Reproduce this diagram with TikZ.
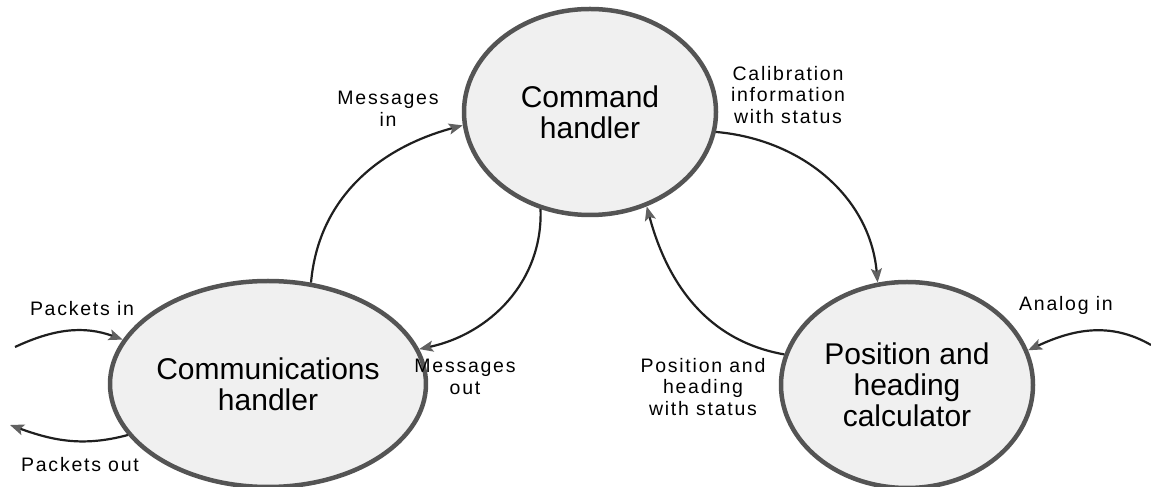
\documentclass[tikz,border=0pt]{standalone}
\usepackage{fontspec}
\setmainfont{Liberation Sans}
\newfontfamily\labelfont{Liberation Sans}[LetterSpace=9]
\usetikzlibrary{shapes.geometric,arrows.meta}
\definecolor{rim}{gray}{0.33}
\definecolor{stipple}{gray}{0.94}
\definecolor{flow}{gray}{0.12}
\definecolor{tip}{gray}{0.38}

\begin{document}
\begin{tikzpicture}[x=1pt,y=1pt,text badly centered,
	flowline/.style={draw=flow,line width=2.2pt,-{Stealth[length=14pt,width=11pt,inset=3pt,color=tip]}}]

	\useasboundingbox (0,0) rectangle (1151,487);

	\begin{scope}[every node/.style={draw=rim,fill=stipple,line width=4.5pt,ellipse,inner sep=0pt,
			minimum width=252pt,minimum height=206pt,align=center,font=\fontsize{30}{31}\selectfont}]
		\node (command) at (590,375) {Command\\handler};
		\node (comms)   at (268,103) {Communications\\handler};
		\node (posh)    at (907,102) {Position and\\heading\\calculator};
	\end{scope}

	\begin{scope}[every node/.style={align=center,inner sep=0pt,font=\labelfont\fontsize{19.5}{21.5}\selectfont}]
		\node (pktin)   at (82,178)   {Packets in};
		\node (pktout)  at (80,22)    {Packets out};
		\node (msgin)   at (388,378)  {Messages\\in};
		\node (msgout)  at (465,110)  {Messages\\out};
		\node (calib)   at (788,392)  {Calibration\\information\\with status};
		\node (posstat) at (703,100)  {Position and\\heading\\with status};
		\node (analog)  at (1066,182) {Analog in};
	\end{scope}

	\coordinate (pktsrc)    at (15,140);
	\coordinate (pktdst)    at (10,62);
	\coordinate (analogsrc) at (1151,142);

	\draw[flowline] (comms.67)    to[out=85,in=195]  (command.186);
	\draw[flowline] (command.243) to[out=-88,in=12]  (comms.13);
	\draw[flowline] (command.-9)  to[out=-5,in=95]   (posh.106);
	\draw[flowline] (posh.166)    to[out=170,in=-75] (command.-59);
	\draw[flowline] (pktsrc)      to[out=25,in=160]  (comms.163);
	\draw[flowline] (comms.200)   to[out=195,in=-20] (pktdst);
	\draw[flowline] (analogsrc)   to[out=150,in=25]  (posh.16);

\end{tikzpicture}
\end{document}
